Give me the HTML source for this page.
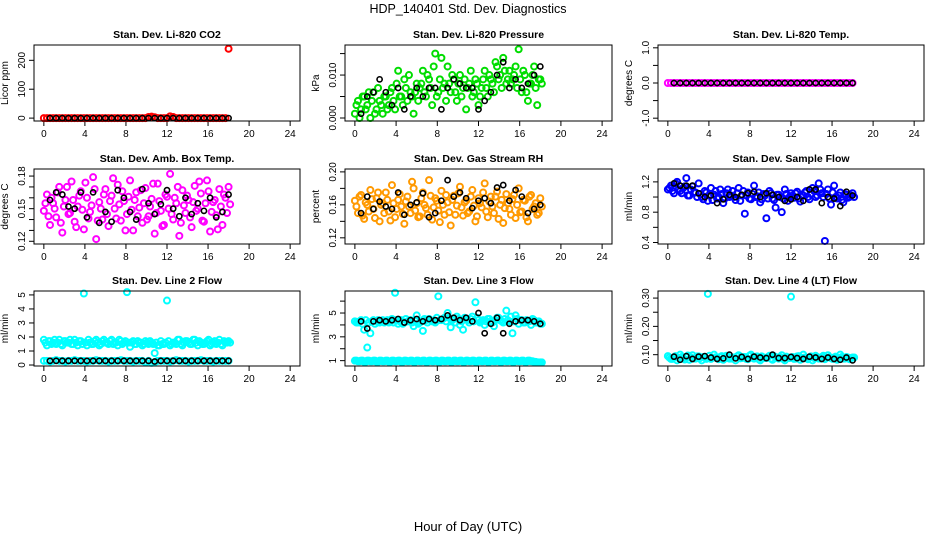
<!DOCTYPE html>
<html><head><meta charset="utf-8"><style>
html,body{margin:0;padding:0;background:#fff}
svg{display:block;font-family:"Liberation Sans",Arial,sans-serif}
</style></head><body>
<svg id="chart" width="936" height="540" viewBox="0 0 936 540" xmlns="http://www.w3.org/2000/svg">
<rect width="936" height="540" fill="#fff"/>
<text x="468" y="13" font-size="12.5" text-anchor="middle">HDP_140401  Std. Dev. Diagnostics</text>
<text x="468" y="531" font-size="13" text-anchor="middle">Hour of Day (UTC)</text>
</svg>
<script>
const xTicks = [0,4,8,12,16,20,24];
const blackHours = [0.6,1.2,1.8,2.4,3.0,3.6,4.2,4.8,5.4,6.0,6.6,7.2,7.8,8.4,9.0,9.6,10.2,10.8,11.4,12.0,12.6,13.2,13.8,14.4,15.0,15.6,16.2,16.8,17.4,18.0];
const colorHours = [];
for (let i = 0; i <= 60; i++) colorHours.push(+(i * 0.3).toFixed(1));
const colorHours2 = [];
for (let i = 0; i <= 60; i++) colorHours2.push(+(i * 0.3 + 0.15).toFixed(2));

const co2Color = [0,0,0,0,0,0,0,0,0,0,0,0,0,0,0,0,0,0,0,0,0,0,0,0,0,0,0,0,0,0,0,0,0,0,4,5,3,0,0,0,0,6,4,0,0,0,0,0,0,0,0,0,0,0,0,0,0,0,0,0,240];
const co2Black = [0,0,0,0,0,0,0,0,0,0,0,0,0,0,0,0,0,0,0,0,0,0,0,0,0,0,0,0,0,0];
const presColor = [0.001,0.004,0.002,0.005,0.003,0.000,0.006,0.002,0.004,0.001,0.005,
0.003,0.007,0.002,0.011,0.005,0.009,0.004,0.006,0.001,0.008,
0.007,0.011,0.005,0.009,0.003,0.015,0.006,0.014,0.008,0.012,
0.006,0.009,0.004,0.010,0.007,0.002,0.008,0.005,0.009,0.003,
0.007,0.011,0.005,0.009,0.006,0.012,0.010,0.014,0.008,0.011,
0.009,0.012,0.016,0.006,0.010,0.004,0.008,0.012,0.003,0.009];
const presColor2 = [0.003,0.000,0.005,0.002,0.006,0.004,0.001,0.007,0.003,0.005,0.002,
0.006,0.004,0.008,0.005,0.003,0.007,0.010,0.005,0.006,0.004,
0.008,0.006,0.010,0.007,0.012,0.005,0.009,0.007,0.004,0.008,
0.010,0.006,0.008,0.005,0.009,0.007,0.011,0.006,0.008,0.005,
0.009,0.007,0.010,0.008,0.013,0.009,0.007,0.011,0.009,0.008,
0.010,0.007,0.009,0.011,0.006,0.008,0.010,0.007,0.009,0.008];
const presBlack = [0.001,0.005,0.006,0.009,0.006,0.003,0.007,0.002,0.005,0.007,0.005,0.007,0.007,0.002,0.007,0.009,0.008,0.007,0.007,0.002,0.004,0.006,0.010,0.013,0.007,0.009,0.007,0.008,0.010,0.012];
const tempColor = [0,0,0,0,0,0,0,0,0,0,0,0,0,0,0,0,0,0,0,0,0,0,0,0,0,0,0,0,0,0,0,0,0,0,0,0,0,0,0,0,0,0,0,0,0,0,0,0,0,0,0,0,0,0,0,0,0,0,0,0,0];
const tempBlack = [0,0,0,0,0,0,0,0,0,0,0,0,0,0,0,0,0,0,0,0,0,0,0,0,0,0,0,0,0,0];
const ambColor = [0.148,0.163,0.135,0.155,0.142,0.170,0.128,0.158,0.145,0.175,0.138,
0.152,0.166,0.131,0.160,0.147,0.179,0.122,0.156,0.140,0.168,
0.134,0.162,0.150,0.172,0.139,0.157,0.145,0.176,0.130,0.165,
0.151,0.137,0.169,0.143,0.159,0.127,0.173,0.148,0.135,0.161,
0.182,0.140,0.155,0.125,0.167,0.146,0.158,0.133,0.171,0.150,
0.164,0.138,0.176,0.129,0.156,0.144,0.168,0.135,0.160,0.170];
const ambColor2 = [0.155,0.143,0.160,0.150,0.165,0.137,0.152,0.170,0.146,0.158,0.133,
0.162,0.149,0.174,0.141,0.153,0.168,0.139,0.150,0.163,0.145,
0.157,0.178,0.141,0.154,0.166,0.130,0.161,0.149,0.158,0.143,
0.167,0.155,0.140,0.152,0.173,0.146,0.157,0.134,0.163,0.150,
0.145,0.160,0.170,0.137,0.153,0.162,0.142,0.156,0.148,0.175,
0.139,0.155,0.166,0.147,0.158,0.131,0.152,0.163,0.146,0.154];
const ambBlack = [0.158,0.165,0.163,0.152,0.150,0.165,0.142,0.165,0.137,0.147,0.138,0.167,0.160,0.147,0.140,0.168,0.155,0.145,0.154,0.167,0.150,0.143,0.160,0.145,0.155,0.148,0.160,0.142,0.147,0.163];
const rhColor = [0.165,0.150,0.172,0.143,0.160,0.178,0.155,0.168,0.140,0.162,0.175,
0.152,0.184,0.145,0.166,0.158,0.137,0.170,0.150,0.180,0.162,
0.146,0.175,0.156,0.190,0.142,0.168,0.153,0.177,0.148,0.163,
0.135,0.171,0.159,0.182,0.147,0.165,0.152,0.178,0.140,0.168,
0.157,0.186,0.145,0.170,0.150,0.176,0.160,0.138,0.173,0.155,
0.167,0.144,0.180,0.152,0.165,0.140,0.172,0.158,0.148,0.168];
const rhColor2 = [0.158,0.170,0.147,0.163,0.152,0.167,0.144,0.175,0.160,0.150,0.166,
0.141,0.162,0.155,0.173,0.149,0.164,0.158,0.188,0.153,0.145,
0.168,0.160,0.148,0.171,0.157,0.165,0.139,0.160,0.172,0.151,
0.166,0.148,0.174,0.157,0.163,0.150,0.170,0.159,0.146,0.162,
0.175,0.152,0.164,0.158,0.170,0.143,0.166,0.156,0.162,0.148,
0.172,0.160,0.151,0.166,0.145,0.170,0.155,0.162,0.150,0.158];
const rhBlack = [0.150,0.170,0.155,0.164,0.158,0.155,0.175,0.148,0.160,0.163,0.174,0.145,0.150,0.165,0.190,0.170,0.175,0.168,0.156,0.165,0.168,0.162,0.181,0.184,0.165,0.178,0.170,0.150,0.155,0.160];
const flowColor = [1.10,1.15,1.05,1.20,1.08,1.12,1.25,1.02,1.14,1.06,1.18,
1.00,1.08,0.95,1.12,1.03,0.98,1.10,0.92,1.05,1.00,
1.08,0.96,1.12,1.02,0.78,1.06,0.97,1.15,1.01,0.93,
1.04,0.72,1.08,0.98,0.86,1.03,0.80,1.10,0.95,1.05,
0.99,1.07,0.94,1.02,1.08,0.97,1.12,1.00,1.18,1.05,
0.42,1.10,0.90,1.15,0.98,1.06,0.93,1.03,1.00,1.05];
const flowColor2 = [1.12,1.08,1.18,1.10,1.05,1.14,1.02,1.10,1.06,1.00,1.04,
0.97,1.06,1.02,0.96,1.08,1.00,1.04,0.98,1.10,1.02,
1.00,1.05,0.95,1.08,1.02,0.98,1.04,1.00,1.06,0.97,
1.02,0.98,1.05,0.96,1.03,1.00,0.98,1.04,1.00,1.02,
1.05,0.98,1.03,1.06,1.00,1.04,1.08,1.02,1.10,1.00,
1.04,0.98,1.06,1.00,1.02,0.96,1.04,0.99,1.02,1.00];
const flowBlack = [1.18,1.15,1.15,1.15,1.05,1.00,1.02,0.92,0.97,1.03,1.00,1.03,1.05,1.07,1.00,1.05,1.03,1.00,0.95,0.97,1.00,0.95,1.10,1.10,0.92,1.00,0.98,0.88,1.07,1.02];
const line2High = [1.8,1.4,1.7,1.6,1.5,1.8,1.4,1.7,1.6,1.5,1.8,1.4,1.7,5.1,1.4,1.6,1.5,1.8,1.4,1.7,1.6,1.5,1.8,1.6,1.4,1.7,1.6,5.2,1.3,1.7,1.5,1.6,1.4,1.7,1.5,1.6,0.85,1.4,1.7,1.5,4.6,1.4,1.6,1.5,1.8,1.4,1.7,1.6,1.5,1.8,1.4,1.6,1.5,1.7,1.4,1.6,1.5,1.8,1.4,1.6,1.7];
const line2High2 = [1.6,1.7,1.5,1.8,1.6,1.5,1.7,1.6,1.8,1.5,1.6,1.7,1.5,1.6,1.8,1.5,1.7,1.6,1.5,1.8,1.6,1.7,1.5,1.6,1.8,1.5,1.7,1.6,1.6,1.5,1.7,1.6,1.5,1.6,1.7,1.5,1.6,1.4,1.5,1.6,1.7,1.5,1.6,1.8,1.5,1.6,1.7,1.5,1.8,1.6,1.7,1.5,1.6,1.8,1.5,1.7,1.6,1.5,1.7,1.6,1.6];
const line2Low = [0.3,0.3,0.25,0.3,0.35,0.3,0.3,0.25,0.3,0.3,0.35,0.3,0.3,0.3,0.25,0.3,0.3,0.35,0.3,0.3,0.3,0.25,0.3,0.3,0.3,0.35,0.3,0.3,0.3,0.25,0.3,0.3,0.3,0.2,0.3,0.15,0.2,0.3,0.3,0.3,0.3,0.25,0.3,0.35,0.3,0.3,0.3,0.25,0.3,0.3,0.3,0.35,0.3,0.3,0.3,0.25,0.3,0.3,0.3,0.3,0.3];
const line2Black = [0.3,0.3,0.3,0.3,0.3,0.3,0.3,0.3,0.3,0.3,0.3,0.3,0.3,0.3,0.3,0.3,0.3,0.25,0.3,0.3,0.3,0.3,0.3,0.3,0.3,0.3,0.3,0.3,0.3,0.3];
const line3High = [4.3,4.2,4.4,3.6,2.1,3.3,4.4,4.3,4.2,4.4,4.3,4.2,4.5,6.7,4.1,4.4,4.2,4.3,4.4,3.9,4.8,4.2,3.5,4.4,4.5,4.3,4.2,6.4,4.4,4.6,5.0,3.8,4.5,4.7,4.0,3.6,4.5,4.2,4.7,5.9,4.4,4.3,4.0,4.5,4.3,3.9,4.6,4.4,4.2,5.2,4.3,3.3,4.8,4.1,4.4,4.2,4.3,4.0,4.4,4.2,4.1];
const line3High2 = [4.2,4.3,4.1,4.4,4.2,4.3,4.1,4.4,4.3,4.2,4.4,4.3,4.2,4.4,4.3,4.1,4.5,4.3,4.2,4.4,4.1,4.3,4.5,4.2,4.4,4.3,4.6,4.4,4.5,4.3,4.6,4.4,4.2,4.5,4.3,4.6,4.4,4.5,4.3,4.6,4.2,4.4,4.3,4.5,4.2,4.4,4.6,4.3,4.5,4.4,4.7,4.3,4.5,4.4,4.2,4.4,4.3,4.5,4.2,4.3,4.1];
const line3Low = [1.0,0.95,1.0,0.9,1.0,0.95,1.0,0.9,1.0,0.95,1.0,0.9,1.0,0.95,1.0,0.9,1.0,0.95,1.0,0.9,1.0,0.95,1.0,0.9,1.0,0.95,1.0,0.9,1.0,0.95,1.0,0.9,1.0,0.95,1.0,0.9,1.0,0.95,1.0,0.9,1.0,0.95,1.0,0.9,1.0,0.95,1.0,0.9,1.0,0.95,1.0,0.9,1.0,0.95,1.0,0.9,1.0,0.95,0.9,0.85,0.85];
const line3Black = [4.3,3.7,4.3,4.4,4.3,4.4,4.5,4.2,4.4,4.5,4.3,4.5,4.4,4.5,4.8,4.6,4.4,4.6,4.3,5.0,3.3,4.1,4.6,3.3,4.1,4.3,4.4,4.4,4.3,4.1];
const line4Color = [0.095,0.085,0.09,0.08,0.1,0.088,0.092,0.082,0.098,0.086,0.094,0.08,0.09,0.315,0.085,0.1,0.088,0.092,0.082,0.096,0.086,0.09,0.08,0.098,0.088,0.092,0.084,0.1,0.086,0.094,0.08,0.09,0.088,0.096,0.082,0.092,0.086,0.098,0.08,0.09,0.305,0.085,0.094,0.082,0.1,0.088,0.09,0.08,0.096,0.086,0.092,0.084,0.098,0.088,0.09,0.082,0.1,0.086,0.092,0.084,0.09];
const line4Color2 = [0.09,0.085,0.095,0.088,0.092,0.083,0.097,0.09,0.086,0.094,0.088,0.092,0.085,0.096,0.089,0.091,0.084,0.095,0.088,0.093,0.086,0.09,0.094,0.087,0.092,0.085,0.096,0.089,0.09,0.084,0.094,0.088,0.092,0.086,0.095,0.089,0.091,0.085,0.093,0.088,0.092,0.086,0.095,0.089,0.09,0.084,0.094,0.088,0.092,0.086,0.096,0.089,0.091,0.085,0.093,0.088,0.092,0.086,0.09,0.088,0.09];
const line4Black = [0.093,0.082,0.095,0.085,0.093,0.095,0.09,0.085,0.087,0.1,0.087,0.092,0.085,0.093,0.09,0.088,0.1,0.088,0.088,0.092,0.088,0.085,0.093,0.09,0.085,0.09,0.085,0.082,0.09,0.08];

const panels = [
 {name:'co2',title:'Stan. Dev. Li-820 CO2',ylab:'Licor ppm',col:0,row:0,ymin:-10,ymax:253,ticks:[0,100,200],labels:[0,100,200],series:[[co2Color,colorHours,'#ff0000'],[co2Black,blackHours,'#000']]},
 {name:'pressure',title:'Stan. Dev. Li-820 Pressure',ylab:'kPa',col:1,row:0,ymin:-0.0007,ymax:0.017,ticks:[0,0.005,0.01,0.015],labels:['0.000','','0.010',''],series:[[presColor,colorHours,'#00dd00'],[presColor2,colorHours2,'#00dd00'],[presBlack,blackHours,'#000']]},
 {name:'temp',title:'Stan. Dev. Li-820 Temp.',ylab:'degrees C',col:2,row:0,ymin:-1.08,ymax:1.08,ticks:[-1,-0.5,0,0.5,1],labels:['-1.0','','0.0','','1.0'],series:[[tempColor,colorHours,'#ff00ff'],[tempBlack,blackHours,'#000']]},
 {name:'amb-box-temp',title:'Stan. Dev. Amb. Box Temp.',ylab:'degrees C',col:0,row:1,ymin:0.1175,ymax:0.1865,ticks:[0.12,0.13,0.14,0.15,0.16,0.17,0.18],labels:['0.12','','','0.15','','','0.18'],series:[[ambColor,colorHours,'#ff00ff'],[ambColor2,colorHours2,'#ff00ff'],[ambBlack,blackHours,'#000']]},
 {name:'gas-rh',title:'Stan. Dev. Gas Stream RH',ylab:'percent',col:1,row:1,ymin:0.1125,ymax:0.2035,ticks:[0.12,0.14,0.16,0.18,0.2],labels:['0.12','','0.16','','0.20'],series:[[rhColor,colorHours,'#ff9900'],[rhColor2,colorHours2,'#ff9900'],[rhBlack,blackHours,'#000']]},
 {name:'sample-flow',title:'Stan. Dev. Sample Flow',ylab:'ml/min',col:2,row:1,ymin:0.38,ymax:1.37,ticks:[0.4,0.6,0.8,1.0,1.2],labels:['0.4','','0.8','','1.2'],series:[[flowColor,colorHours,'#0000ff'],[flowColor2,colorHours2,'#0000ff'],[flowBlack,blackHours,'#000']]},
 {name:'line2-flow',title:'Stan. Dev. Line 2 Flow',ylab:'ml/min',col:0,row:2,ymin:-0.07,ymax:5.28,ticks:[0,1,2,3,4,5],labels:['0','1','2','3','4','5'],series:[[line2High,colorHours,'#00ffff'],[line2High2,colorHours2,'#00ffff'],[line2Low,colorHours,'#00ffff'],[line2Black,blackHours,'#000']]},
 {name:'line3-flow',title:'Stan. Dev. Line 3 Flow',ylab:'ml/min',col:1,row:2,ymin:0.55,ymax:6.85,ticks:[1,2,3,4,5,6],labels:['1','','3','','5',''],series:[[line3High,colorHours,'#00ffff'],[line3High2,colorHours2,'#00ffff'],[line3Low,colorHours,'#00ffff'],[line3Low,colorHours2,'#00ffff'],[line3Black,blackHours,'#000']]},
 {name:'line4-flow',title:'Stan. Dev. Line 4 (LT) Flow',ylab:'ml/min',col:2,row:2,ymin:0.06,ymax:0.325,ticks:[0.1,0.15,0.2,0.25,0.3],labels:['0.10','','0.20','','0.30'],series:[[line4Color,colorHours,'#00ffff'],[line4Color2,colorHours2,'#00ffff'],[line4Black,blackHours,'#000']]}
];
const colX = [[34,300],[345,612],[658,924]];
const rowY = [[45,121],[169,244],[291,366]];
const NS = 'http://www.w3.org/2000/svg';
const svg = document.getElementById('chart');
function mk(tag, attrs, parent){const e=document.createElementNS(NS,tag);for(const k in attrs)e.setAttribute(k,attrs[k]);(parent||svg).appendChild(e);return e;}

panels.forEach(p => {
  const [x0,x1] = colX[p.col], [y0,y1] = rowY[p.row];
  const xs = v => x0 + (v + 0.96) / 25.92 * (x1 - x0);
  const ys = v => y1 - (v - p.ymin) / (p.ymax - p.ymin) * (y1 - y0);
  const g = mk('g', {});
  
  
  const t = mk('text', {x:(x0+x1)/2, y:y0-7, 'font-size':10.5, 'font-weight':'bold', 'text-anchor':'middle'}, g);
  
  
  t.textContent = p.title;
  const yl = mk('text', {x:0, y:0, 'font-size':10, 'text-anchor':'middle', transform:`translate(${x0-26},${(y0+y1)/2}) rotate(-90)`}, g);
  
  
  yl.textContent = p.ylab;
  xTicks.forEach(v => {
    const x = xs(v);
    mk('line', {x1:x, x2:x, y1:y1, y2:y1+5, stroke:'#000', 'stroke-width':1}, g);
    const tl = mk('text', {x:x, y:y1+16, 'font-size':10, 'text-anchor':'middle'}, g);
    
    
    tl.textContent = v;
  });
  p.ticks.forEach((v, i) => {
    const y = ys(v);
    mk('line', {x1:x0-5, x2:x0, y1:y, y2:y, stroke:'#000', 'stroke-width':1}, g);
    if (p.labels[i] !== '') {
      const tl = mk('text', {x:0, y:0, 'font-size':10, 'text-anchor':'middle', transform:`translate(${x0-9},${y}) rotate(-90)`}, g);
      
      
      tl.textContent = p.labels[i];
    }
  });
  p.series.forEach(([vals, hrs, color]) => {
    const black = color === '#000';
    vals.forEach((v, i) => {
      const c = mk('circle', {cx:xs(hrs[i]), cy:ys(v), r:black?2.6:3, fill:'none', stroke:color, 'stroke-width':black?1.6:2}, g);
      
      
    });
  });
  const box = mk('rect', {x:x0, y:y0, width:x1-x0, height:y1-y0, fill:'none', stroke:'#000', 'stroke-width':1}, g);
  
  
});
</script>
</body></html>
